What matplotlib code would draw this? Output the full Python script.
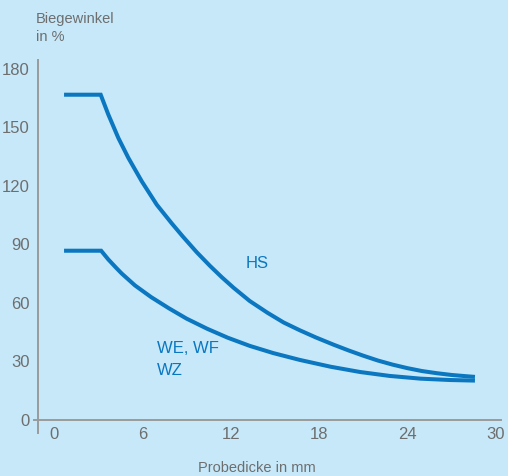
import matplotlib
matplotlib.use('Agg')
import matplotlib.pyplot as plt

plt.rcParams['font.family'] = ['Liberation Sans', 'DejaVu Sans']

# Probedicke (mm) vs. Biegewinkel (%)
hs_x = [0.68, 3.17, 3.69, 4.37, 5.05, 5.96, 6.98, 8.0, 8.76, 9.7, 10.6, 11.4, 12.2, 13.3,
        14.5, 15.6, 16.7, 17.8, 19.0, 20.0, 21.0, 22.0, 23.0, 24.0, 25.0, 26.0, 27.0, 28.0, 28.6]
hs_y = [166.8, 166.8, 156.6, 144.6, 134.4, 122.4, 110.4, 100.8, 94.0, 86.0, 79.0, 73.2, 67.8, 61.0,
        55.0, 50.0, 46.0, 42.3, 38.6, 35.7, 33.0, 30.5, 28.4, 26.6, 25.1, 24.0, 23.1, 22.45, 22.1]

we_x = [0.68, 3.2, 3.69, 4.2, 4.6, 5.5, 6.6, 7.8, 9.0, 10.4, 11.8, 13.3, 14.9, 16.7, 18.8,
        20.8, 22.8, 24.9, 26.9, 28.6]
we_y = [86.8, 86.8, 82.3, 78.2, 75.1, 69.0, 63.0, 57.3, 52.0, 46.8, 42.2, 38.0, 34.3, 30.8, 27.3,
        24.6, 22.6, 21.2, 20.5, 20.2]

x_ticks = [0, 6, 12, 18, 24, 30]
y_ticks = [0, 30, 60, 90, 120, 150, 180]

bg = '#c6e8f9'
blue = '#0a77c0'
grey = '#6e6e6e'
spine_c = '#9a9a9a'

fig = plt.figure(figsize=(5.08, 4.76), dpi=100, facecolor=bg)
ax = fig.add_axes([38 / 508, (476 - 433) / 476, (501 - 38) / 508, (433 - 60) / 476])
ax.set_facecolor(bg)

ax.plot(hs_x, hs_y, color=blue, lw=2.9, solid_capstyle='butt', solid_joinstyle='miter')
ax.plot(we_x, we_y, color=blue, lw=2.9, solid_capstyle='butt', solid_joinstyle='miter')

ax.set_xlim(-1.09, 30.37)
ax.set_ylim(-6.67, 184.6)

for s in ['top', 'right']:
    ax.spines[s].set_visible(False)
ax.spines['left'].set_color(spine_c)
ax.spines['left'].set_linewidth(1.4)
ax.spines['bottom'].set_color(spine_c)
ax.spines['bottom'].set_linewidth(1.4)
ax.spines['bottom'].set_position(('data', 0))
ax.spines['bottom'].set_bounds(-1.35, 30.37)

ax.set_xticks(x_ticks)
ax.set_yticks(y_ticks)
ax.tick_params(axis='both', length=0, labelsize=12, labelcolor=grey)
ax.tick_params(axis='x', pad=5)
ax.tick_params(axis='y', pad=6)

ax.text(13.8, 80, 'HS', color=blue, fontsize=12, ha='center', va='center')
ax.text(7.0, 36.9, 'WE, WF', color=blue, fontsize=12, ha='left', va='center')
ax.text(7.0, 25.6, 'WZ', color=blue, fontsize=12, ha='left', va='center')

fig.text(36 / 508, 1 - 12 / 476, 'Biegewinkel\nin %', color=grey, fontsize=10.5,
         ha='left', va='top', linespacing=1.35)
fig.text(257 / 508, 1 - 468 / 476, 'Probedicke in mm', color=grey, fontsize=10.5,
         ha='center', va='center')

fig.savefig('out.png', dpi=100, facecolor=bg)
